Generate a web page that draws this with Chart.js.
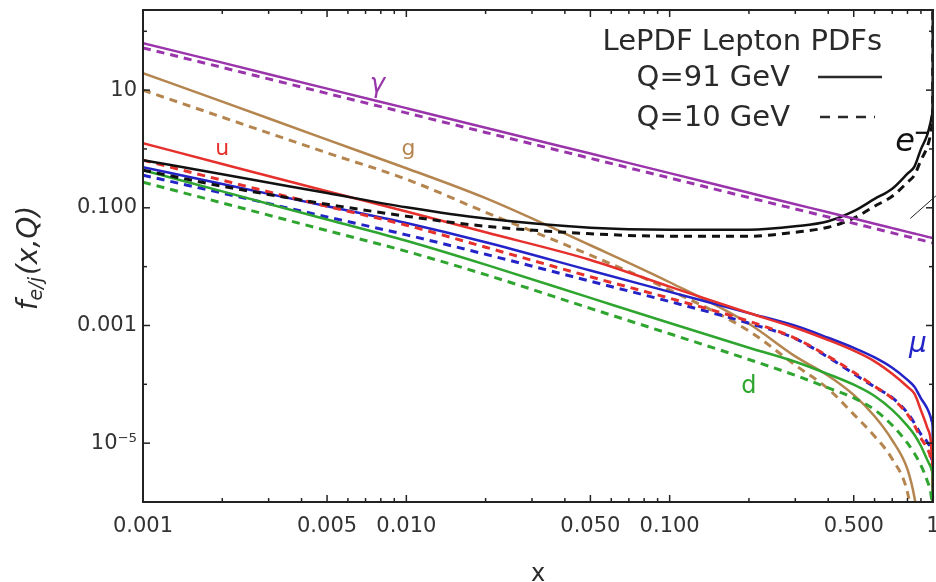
<!DOCTYPE html>
<html>
<head>
<meta charset="utf-8">
<script src="https://cdn.jsdelivr.net/npm/chart.js@4.4.1/dist/chart.umd.min.js"></script>
<style>
  html, body { margin: 0; padding: 0; background: #fff; }
</style>
</head>
<body>
<canvas id="pdfChart" width="936" height="582"></canvas>
<script>
// x grid shared by all curves
const xs = [0.001, 0.002, 0.005, 0.01, 0.02, 0.05, 0.1, 0.2, 0.3, 0.4, 0.5, 0.6, 0.7, 0.8, 0.85, 0.9, 0.95, 0.98, 0.99, 0.997, 0.9999];

// Q = 91 GeV (solid) and Q = 10 GeV (dashed)
const gammaQ91 = [63, 29.3, 10.6, 4.94, 2.30, 0.835, 0.388, 0.180, 0.115, 0.084, 0.0656, 0.0536, 0.0452, 0.039, 0.0365, 0.0343, 0.0322, 0.0312, 0.0308, 0.0306, 0.0305];
const gammaQ10 = [52.3, 24.3, 8.8, 4.1, 1.91, 0.693, 0.322, 0.149, 0.0955, 0.0697, 0.0544, 0.0445, 0.0375, 0.0324, 0.0303, 0.0285, 0.0267, 0.0259, 0.0256, 0.0254, 0.0253];
const gluonQ91 = [19.5, 6.37, 1.44, 0.471, 0.1456, 0.0231, 0.00543, 0.00107, 0.000299, 0.00014, 6.6e-5, 2.86e-5, 1.12e-5, 3.58e-6, 1.2e-6, 2e-7, null, null, null, null, null];
const gluonQ10 = [10, 3.47, 0.859, 0.306, 0.0841, 0.01563, 0.00402, 0.000805, 0.000212, 8.36e-5, 3.09e-5, 1.31e-5, 5.38e-6, 1.46e-6, 3e-7, null, null, null, null, null, null];
const upQ91 = [1.255, 0.556, 0.191, 0.0865, 0.0383, 0.013, 0.00457, 0.00163, 0.000914, 0.000565, 0.000373, 0.000246, 0.000151, 9.08e-5, 6.92e-5, 3.61e-5, 1.86e-5, 1.12e-5, 6.2e-6, 2.3e-6, 1e-9];
const upQ10 = [0.645, 0.294, 0.106, 0.0506, 0.0214, 0.00673, 0.0029, 0.00118, 0.000605, 0.000299, 0.00016, 9.24e-5, 5.78e-5, 3.09e-5, 2.01e-5, 1.21e-5, 8.17e-6, 5.51e-6, 3.72e-6, 1.57e-6, 1e-9];
const muonQ91 = [0.49, 0.254, 0.1064, 0.0551, 0.026, 0.00859, 0.00373, 0.00162, 0.000988, 0.000618, 0.000416, 0.000286, 0.000191, 0.000119, 9.1e-5, 5.78e-5, 3.91e-5, 2.77e-5, 2.3e-5, 1.79e-5, 1e-9];
const muonQ10 = [0.358, 0.178, 0.07, 0.0347, 0.0162, 0.00565, 0.00255, 0.00109, 0.000598, 0.000288, 0.000151, 9.03e-5, 5.94e-5, 3.27e-5, 2.19e-5, 1.41e-5, 1.05e-5, 7.55e-6, 5.1e-6, 1.91e-6, 1e-9];
const downQ91 = [0.436, 0.19, 0.0632, 0.0275, 0.0108, 0.00294, 0.0011, 0.000419, 0.000242, 0.000149, 9.84e-5, 6.32e-5, 3.67e-5, 1.97e-5, 1.39e-5, 8.93e-6, 5.26e-6, 3.95e-6, 3.49e-6, 2.33e-6, 1e-9];
const downQ10 = [0.272, 0.121, 0.041, 0.0182, 0.00731, 0.00195, 0.000723, 0.000264, 0.000142, 8.71e-5, 5.87e-5, 3.7e-5, 2.01e-5, 1e-5, 6.68e-6, 4.19e-6, 2.33e-6, 1.46e-6, 1.06e-6, 5e-7, 1e-9];
const electronQ91 = [0.645, 0.372, 0.178, 0.102, 0.0655, 0.0459, 0.0425, 0.0425, 0.0486, 0.0592, 0.0875, 0.1416, 0.2113, 0.38, 0.5, 0.993, 1.72, 2.91, 3.68, 6.76, 1e5];
const electronQ10 = [0.436, 0.233, 0.115, 0.072, 0.0486, 0.0363, 0.0329, 0.0329, 0.0385, 0.0468, 0.0665, 0.1064, 0.157, 0.272, 0.358, 0.645, 1.07, 1.79, 2.35, 4.57, 1e5];

const xTickValues = [0.001, 0.005, 0.01, 0.05, 0.1, 0.5, 1];
const xTickLabels = ["0.001", "0.005", "0.010", "0.050", "0.100", "0.500", "1"];
const xMinorTicks = [0.002, 0.003, 0.004, 0.006, 0.007, 0.008, 0.009, 0.02, 0.03, 0.04, 0.06, 0.07, 0.08, 0.09, 0.2, 0.3, 0.4, 0.6, 0.7, 0.8, 0.9];
const yTickValues = [1e-5, 1e-3, 0.1, 10];
const yTickLabels = ["10⁻⁵", "0.001", "0.100", "10"];
const yMinorTicks = [1e-4, 1e-2, 1, 100];

const PURPLE = "#9a34ab";
const BROWN = "#b5854f";
const RED = "#e5302c";
const BLUE = "#2323c8";
const GREEN = "#2ea52e";
const BLACK = "#111111";

const series = [
  { name: "γ 91", values: gammaQ91, color: PURPLE, dashed: false },
  { name: "γ 10", values: gammaQ10, color: PURPLE, dashed: true },
  { name: "e 91", values: electronQ91, color: BLACK, dashed: false },
  { name: "e 10", values: electronQ10, color: BLACK, dashed: true },
  { name: "d 91", values: downQ91, color: GREEN, dashed: false },
  { name: "d 10", values: downQ10, color: GREEN, dashed: true },
  { name: "u 91", values: upQ91, color: RED, dashed: false },
  { name: "u 10", values: upQ10, color: RED, dashed: true },
  { name: "mu 91", values: muonQ91, color: BLUE, dashed: false },
  { name: "mu 10", values: muonQ10, color: BLUE, dashed: true },
  { name: "g 91", values: gluonQ91, color: BROWN, dashed: false },
  { name: "g 10", values: gluonQ10, color: BROWN, dashed: true }
];

// labels placed in data coordinates
const curveLabels = [
  { text: "γ", x: 0.00776, y: 9.25, color: PURPLE, font: "italic 26px 'DejaVu Sans'" },
  { text: "g", x: 0.0102, y: 0.785, color: BROWN, font: "22px 'DejaVu Sans'" },
  { text: "u", x: 0.002, y: 0.785, color: RED, font: "22px 'DejaVu Sans'" },
  { text: "μ", x: 0.877, y: 3.5e-4, color: BLUE, font: "italic 28px 'DejaVu Sans'" },
  { text: "d", x: 0.2, y: 7.0e-5, color: GREEN, font: "24px 'DejaVu Sans'" },
  { text: "e", x: 0.783, y: 0.918, color: BLACK, font: "italic 32px 'DejaVu Sans'", sup: "−" }
];

const frameAndText = {
  id: "frameAndText",
  afterDatasetsDraw(chart) {
    const { ctx, chartArea: a, scales: { x, y } } = chart;
    ctx.save();

    // frame
    ctx.strokeStyle = "#222";
    ctx.lineWidth = 2;
    ctx.strokeRect(a.left, a.top, a.right - a.left, a.bottom - a.top);

    // inward ticks on all four sides
    ctx.lineWidth = 1.5;
    const seg = (x1, y1, x2, y2) => { ctx.beginPath(); ctx.moveTo(x1, y1); ctx.lineTo(x2, y2); ctx.stroke(); };
    const xTick = (v, len) => {
      const px = x.getPixelForValue(v);
      seg(px, a.bottom, px, a.bottom - len);
      seg(px, a.top, px, a.top + len);
    };
    const yTick = (v, len) => {
      const py = y.getPixelForValue(v);
      seg(a.left, py, a.left + len, py);
      seg(a.right, py, a.right - len, py);
    };
    xTickValues.forEach(v => xTick(v, 7));
    xMinorTicks.forEach(v => xTick(v, 4));
    yTickValues.forEach(v => yTick(v, 7));
    yMinorTicks.forEach(v => yTick(v, 4));

    // small pointer line at right
    ctx.lineWidth = 1;
    ctx.strokeStyle = "#222";
    seg(x.getPixelForValue(0.82), y.getPixelForValue(0.066), a.right + 3, y.getPixelForValue(0.16));

    // curve labels
    ctx.textAlign = "center";
    ctx.textBaseline = "alphabetic";
    curveLabels.forEach(l => {
      ctx.font = l.font;
      ctx.fillStyle = l.color;
      const px = x.getPixelForValue(l.x);
      const py = y.getPixelForValue(l.y);
      ctx.fillText(l.text, px, py);
      if (l.sup) {
        const w = ctx.measureText(l.text).width;
        ctx.font = "bold 20px 'DejaVu Sans'";
        ctx.textAlign = "left";
        ctx.fillText(l.sup, px + w / 2 - 1, py - 12);
        ctx.textAlign = "center";
      }
    });

    // legend
    ctx.fillStyle = "#2a2a2a";
    ctx.strokeStyle = "#2a2a2a";
    ctx.font = "29px 'DejaVu Sans'";
    ctx.textAlign = "right";
    ctx.textBaseline = "middle";
    ctx.fillText("LePDF Lepton PDFs", a.right - 51, 42);
    ctx.fillText("Q=91 GeV", a.right - 143, 78);
    ctx.fillText("Q=10 GeV", a.right - 143, 118);
    ctx.lineWidth = 2.5;
    seg(a.right - 115, 77, a.right - 51, 77);
    ctx.setLineDash([10, 8]);
    seg(a.right - 113, 117, a.right - 58, 117);
    ctx.setLineDash([]);

    // axis titles
    ctx.textAlign = "center";
    ctx.textBaseline = "alphabetic";
    ctx.font = "24px 'DejaVu Sans'";
    ctx.fillText("x", (a.left + a.right) / 2, 581);

    ctx.translate(27, (a.top + a.bottom) / 2 + 2);
    ctx.rotate(-Math.PI / 2);
    ctx.textAlign = "left";
    const mainFont = "italic 28px 'DejaVu Sans'";
    const subFont = "italic 19px 'DejaVu Sans'";
    ctx.font = mainFont;
    const wf = ctx.measureText("f").width;
    const wr = ctx.measureText("(x,Q)").width;
    ctx.font = subFont;
    const ws = ctx.measureText("e/j").width;
    let cx = -(wf + ws + wr + 2) / 2;
    ctx.font = mainFont;
    ctx.fillText("f", cx, 10);
    cx += wf;
    ctx.font = subFont;
    ctx.fillText("e/j", cx, 15);
    cx += ws + 2;
    ctx.font = mainFont;
    ctx.fillText("(x,Q)", cx, 10);

    ctx.restore();
  }
};

const datasets = series.map(s => ({
  label: s.name,
  data: xs.map((xv, i) => ({ x: xv, y: s.values[i] })),
  borderColor: s.color,
  backgroundColor: s.color,
  borderWidth: s.dashed ? 3 : 2.5,
  borderDash: s.dashed ? [8, 6] : [],
  pointRadius: 0,
  fill: false,
  cubicInterpolationMode: "monotone",
  spanGaps: false,
  clip: 0
}));

const tickFont = { family: "DejaVu Sans", size: 21 };

new Chart(document.getElementById("pdfChart"), {
  type: "line",
  data: { datasets },
  plugins: [frameAndText],
  options: {
    responsive: false,
    animation: false,
    devicePixelRatio: 1,
    layout: { padding: { top: 10, right: 3, left: 0, bottom: 0 } },
    plugins: { legend: { display: false }, tooltip: { enabled: false } },
    scales: {
      x: {
        type: "logarithmic",
        min: 0.001,
        max: 1,
        afterBuildTicks: s => { s.ticks = xTickValues.map(v => ({ value: v })); },
        afterFit: s => { s.height = 80; s.paddingLeft = 0; s.paddingRight = 0; },
        grid: { display: false, drawTicks: false },
        border: { display: false },
        ticks: {
          autoSkip: false,
          maxRotation: 0,
          padding: 12,
          color: "#333",
          font: tickFont,
          callback: (v, i) => xTickLabels[i]
        }
      },
      y: {
        type: "logarithmic",
        min: 1e-6,
        max: 230,
        afterBuildTicks: s => { s.ticks = yTickValues.map(v => ({ value: v })); },
        afterFit: s => { s.width = 143; s.paddingTop = 0; s.paddingBottom = 0; },
        grid: { display: false, drawTicks: false },
        border: { display: false },
        ticks: {
          autoSkip: false,
          padding: 6,
          color: "#333",
          font: tickFont,
          callback: (v, i) => yTickLabels[i]
        }
      }
    }
  }
});
</script>
</body>
</html>
